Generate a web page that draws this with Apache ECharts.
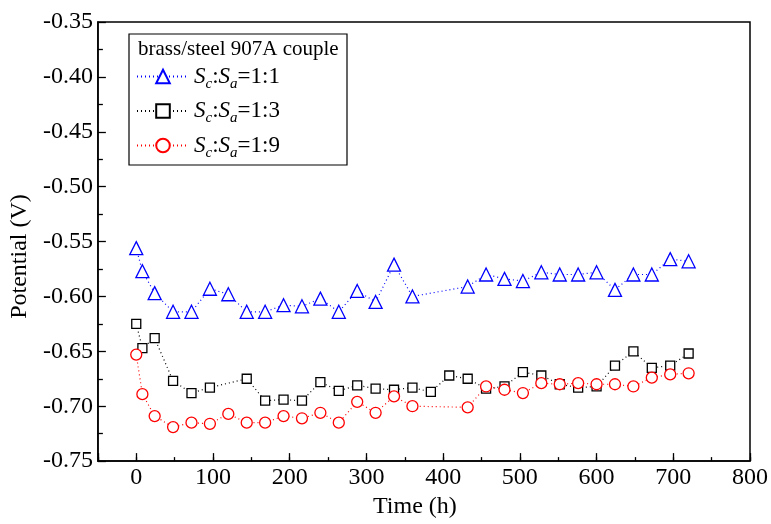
<!DOCTYPE html>
<html>
<head>
<meta charset="utf-8">
<title>brass/steel 907A couple</title>
<script src="https://cdn.jsdelivr.net/npm/echarts@6/dist/echarts.min.js"></script>
<style>
  html, body { margin: 0; padding: 0; background: #fff; }
  #chart { width: 771px; height: 524px; }
</style>
</head>
<body>
<div id="chart"></div>
<script>
// 数据
var timeBlue = [0, 8, 24, 48, 72, 96, 120, 144, 168, 192, 216, 240, 264, 288, 312, 336, 360, 432, 456, 480, 504, 528, 552, 576, 600, 624, 648, 672, 696, 720]
var potBlue = [-0.556, -0.577, -0.597, -0.614, -0.614, -0.593, -0.598, -0.614, -0.614, -0.608, -0.609, -0.602, -0.614, -0.595, -0.605, -0.571, -0.600, -0.591, -0.580, -0.584, -0.586, -0.578, -0.580, -0.580, -0.578, -0.594, -0.580, -0.580, -0.566, -0.568]

var timeBlack = [0, 8, 24, 48, 72, 96, 144, 168, 192, 216, 240, 264, 288, 312, 336, 360, 384, 408, 432, 456, 480, 504, 528, 552, 576, 600, 624, 648, 672, 696, 720]
var potBlack = [-0.625, -0.647, -0.638, -0.677, -0.688, -0.683, -0.675, -0.695, -0.694, -0.695, -0.678, -0.686, -0.681, -0.684, -0.685, -0.683, -0.687, -0.672, -0.675, -0.684, -0.682, -0.669, -0.672, -0.680, -0.683, -0.682, -0.663, -0.650, -0.665, -0.663, -0.652]

var timeRed = [0, 8, 24, 48, 72, 96, 120, 144, 168, 192, 216, 240, 264, 288, 312, 336, 360, 432, 456, 480, 504, 528, 552, 576, 600, 624, 648, 672, 696, 720]
var potRed = [-0.653, -0.689, -0.709, -0.719, -0.715, -0.716, -0.707, -0.715, -0.715, -0.709, -0.711, -0.706, -0.715, -0.696, -0.706, -0.691, -0.700, -0.701, -0.682, -0.685, -0.688, -0.679, -0.680, -0.679, -0.680, -0.680, -0.682, -0.674, -0.671, -0.670]

var ratios = ['1:1', '1:3', '1:9']
var legendTitle = 'brass/steel 907A couple'

var font = 'Liberation Serif, Times New Roman, serif'

function pairs(xs, ys) {
  return xs.map(function (x, i) { return [x, ys[i]] })
}

function makeSeries(name, xs, ys, symbol, size, color) {
  return {
    name: name,
    type: 'line',
    data: pairs(xs, ys),
    symbol: symbol,
    symbolSize: size,
    showAllSymbol: true,
    lineStyle: { color: color, width: 1.2, type: [1, 3] },
    itemStyle: { color: '#fff', borderColor: color, borderWidth: 1.3 },
    emphasis: { disabled: true },
    animation: false
  }
}

var myChart = echarts.init(document.getElementById('chart'))

var option = {
  animation: false,
  grid: {
    left: 96, top: 22, right: 18, bottom: 52,
    show: true,
    borderColor: '#000',
    borderWidth: 1.5
  },
  title: {
    text: legendTitle,
    left: 133,
    top: 34,
    textStyle: { fontFamily: font, fontSize: 21, fontWeight: 'normal', color: '#000' }
  },
  legend: {
    orient: 'vertical',
    left: 136,
    top: 65,
    padding: 0,
    itemGap: 8,
    itemWidth: 52,
    itemHeight: 17,
    data: ratios,
    formatter: function (name) {
      return '{s|S}{sub|c}{n|:}{s|S}{sub|a}{n|=' + name + '}'
    },
    textStyle: {
      fontFamily: font,
      color: '#000',
      rich: {
        s: { fontFamily: font, fontSize: 23, fontStyle: 'italic', lineHeight: 30, verticalAlign: 'middle' },
        sub: { fontFamily: font, fontSize: 15, fontStyle: 'italic', lineHeight: 30, verticalAlign: 'bottom' },
        n: { fontFamily: font, fontSize: 23, lineHeight: 30, verticalAlign: 'middle' }
      }
    }
  },
  graphic: [
    {
      type: 'rect',
      z: 1,
      shape: { x: 129, y: 34, width: 218, height: 131 },
      style: { fill: 'none', stroke: '#000', lineWidth: 1.2 }
    }
  ],
  xAxis: [
    {
      type: 'value',
      min: -50,
      max: 800,
      minInterval: 100,
      maxInterval: 100,
      position: 'bottom',
      name: 'Time (h)',
      nameLocation: 'middle',
      nameGap: 28,
      nameTextStyle: { fontFamily: font, fontSize: 24, color: '#000', padding: [0, 18, 0, 0] },
      axisLine: { onZero: false, lineStyle: { color: '#000', width: 1.5 } },
      axisTick: { inside: true, length: 8, lineStyle: { color: '#000', width: 1.3 } },
      axisLabel: {
        fontFamily: font, fontSize: 24, color: '#000', margin: 5,
        formatter: function (v) { return v < 0 ? '' : String(v) }
      },
      splitLine: { show: false }
    },
    {
      // 50 h 的小刻度
      type: 'value',
      min: -50,
      max: 800,
      minInterval: 50,
      maxInterval: 50,
      position: 'bottom',
      axisLine: { show: false, onZero: false },
      axisTick: { inside: true, length: 4, lineStyle: { color: '#000', width: 1.3 } },
      axisLabel: { show: false },
      splitLine: { show: false }
    }
  ],
  yAxis: {
    type: 'value',
    min: -0.75,
    max: -0.35,
    interval: 0.05,
    name: 'Potential (V)',
    nameLocation: 'middle',
    nameGap: 65,
    nameTextStyle: { fontFamily: font, fontSize: 24, color: '#000', padding: [0, 30, 0, 0] },
    axisLine: { show: true, onZero: false, lineStyle: { color: '#000', width: 1.5 } },
    axisTick: { show: true, inside: true, length: 8, lineStyle: { color: '#000', width: 1.3 } },
    minorTick: { show: true, splitNumber: 2, length: 5, lineStyle: { color: '#000', width: 1.3 } },
    axisLabel: {
      fontFamily: font, fontSize: 24, color: '#000', margin: 5,
      formatter: function (v) { return v.toFixed(2) }
    },
    splitLine: { show: false }
  },
  series: [
    makeSeries(ratios[0], timeBlue, potBlue, 'triangle', 13, '#0000ff'),
    makeSeries(ratios[1], timeBlack, potBlack, 'rect', 9, '#000000'),
    makeSeries(ratios[2], timeRed, potRed, 'circle', 11, '#ff0000')
  ]
}

myChart.setOption(option)
window.onresize = myChart.resize
</script>
</body>
</html>
